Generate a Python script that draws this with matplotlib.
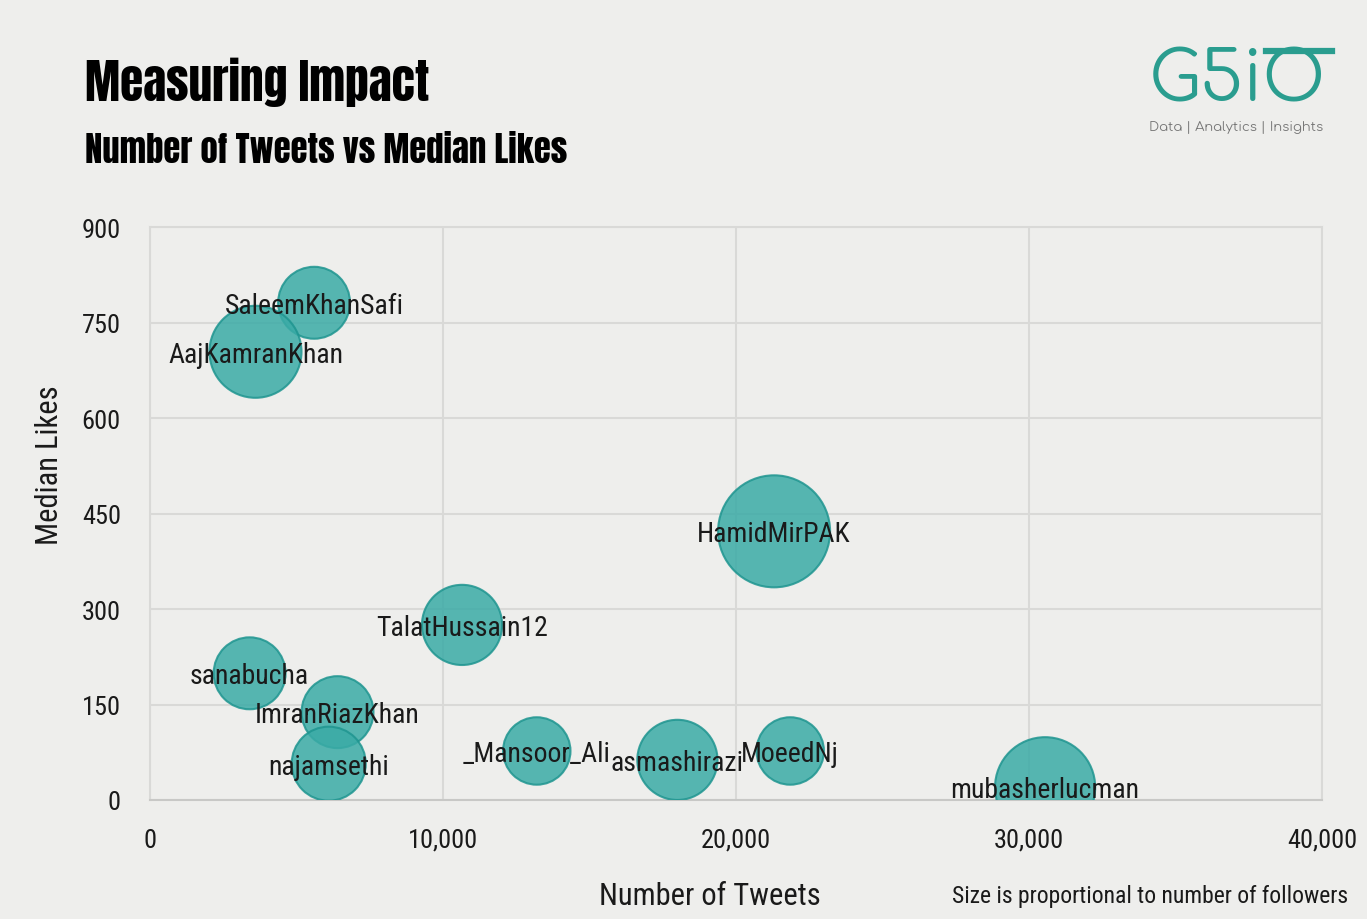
import matplotlib
matplotlib.use('Agg')
import matplotlib.pyplot as plt
from matplotlib.lines import Line2D

# datos
cuentas = ['SaleemKhanSafi', 'AajKamranKhan', 'HamidMirPAK', 'TalatHussain12', 'sanabucha',
           'ImranRiazKhan', 'najamsethi', '_Mansoor_Ali', 'asmashirazi', 'MoeedNj', 'mubasherlucman']
tweets = [5600, 3600, 21300, 10650, 3400, 6400, 6100, 13200, 18000, 21850, 30550]
likes_mediana = [781, 704, 422, 275, 199, 138, 57, 77, 63, 77, 20]
seguidores_m = [3.3, 5.4, 8.0, 4.1, 3.3, 3.3, 3.5, 2.9, 4.1, 2.9, 6.4]
xticks = [0, 10000, 20000, 30000, 40000]
yticks = [0, 150, 300, 450, 600, 750, 900]

fondo = '#eeeeec'
teal = '#3aaba6'
borde = '#1f9590'
rejilla = '#d9d9d7'
fuente = ['Roboto Condensed', 'DejaVu Sans']
fuente_titulo = ['Anton', 'Oswald', 'Roboto Condensed', 'DejaVu Sans']

plt.rcParams['font.family'] = fuente

fig = plt.figure(figsize=(13.67, 9.2), dpi=100, facecolor=fondo)
ax = fig.add_axes([150/1367, 1-801/920, (1322-150)/1367, (801-228)/920])
ax.set_facecolor(fondo)

#Tamaño de burbuja proporcional a los seguidores
tam = [s * 813 for s in seguidores_m]
ax.scatter(tweets, likes_mediana, s=tam, color=teal, alpha=0.85, edgecolors=borde,
           linewidths=1.5, zorder=3)
for nombre, xv, yv in zip(cuentas, tweets, likes_mediana):
    ax.text(xv, yv - 4, nombre, ha='center', va='center', fontsize=20, color='#1a1a1a',
            zorder=4)

ax.set_xlim(0, 40000)
ax.set_ylim(0, 900)
ax.set_xticks(xticks)
ax.set_xticklabels([f'{v:,}' for v in xticks])
ax.set_yticks(yticks)
ax.tick_params(length=0, labelsize=19, colors='#1a1a1a')
ax.tick_params(axis='x', pad=20)
ax.tick_params(axis='y', pad=21)
ax.grid(True, color=rejilla, linewidth=1.5, zorder=0)
for sp in ax.spines.values():
    sp.set_color(rejilla)
    sp.set_linewidth(1.5)
ax.spines['bottom'].set_color('#c8c8c6')

fig.text(50/1367, 1-465/920, 'Median Likes', rotation=90, ha='center', va='center',
         fontsize=22, color='#1a1a1a')
fig.text(710/1367, 1-897/920, 'Number of Tweets', ha='center', va='center',
         fontsize=22, color='#1a1a1a')
fig.text(1348/1367, 1-897/920, 'Size is proportional to number of followers', ha='right',
         va='center', fontsize=17, color='#1a1a1a')

# titulos
fig.text(85/1367, 1-82/920, 'Measuring Impact', ha='left', va='center', fontsize=34,
         color='black', family=fuente_titulo)
fig.text(85/1367, 1-150/920, 'Number of Tweets vs Median Likes', ha='left', va='center',
         fontsize=25, color='black', family=fuente_titulo)

# logo
fig.text(1237/1367, 1-102/920, 'G5iO', ha='center', va='baseline', fontsize=49,
         color='#2a9d8f', family=['Comfortaa', 'Lato', 'DejaVu Sans'])
fig.add_artist(Line2D([1266/1367, 1332/1367], [1-52/920, 1-52/920], color='#2a9d8f',
                      linewidth=4.5, transform=fig.transFigure))
fig.text(1236/1367, 1-127/920, 'Data | Analytics | Insights', ha='center', va='center',
         fontsize=9.5, color='#777777', family=['Comfortaa', 'Lato', 'DejaVu Sans'])

fig.savefig('out.png', dpi=100, facecolor=fondo)
